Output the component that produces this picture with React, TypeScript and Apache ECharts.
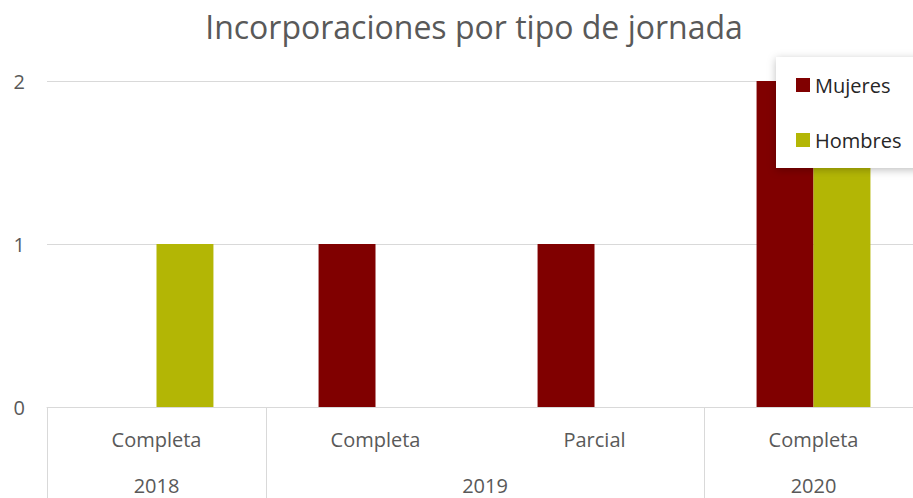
import React, { useEffect, useRef } from "react";
import * as echarts from "echarts";

const titleText = "Incorporaciones por tipo de jornada";
const tipos = ["Completa", "Completa", "Parcial", "Completa"];
const yearGroups = ["2018", "2019", "2020"];
const yearCounts = [1, 2, 1];
const mujeres = [0, 1, 1, 2];
const hombres = [1, 0, 0, 2];
const yTicks = [0, 1, 2];

const FONT = "'Open Sans', 'Noto Sans', sans-serif";
const GREY = "#595959";
const LINE = "#d9d9d9";

export default function App() {
  const ref = useRef<HTMLDivElement>(null);
  useEffect(() => {
    document.body.style.margin = "0";
    if (!ref.current) return;
    const chart = echarts.init(ref.current, null, { renderer: "svg" });

    // boundaries and centers of the year groups, in category units
    const bounds: number[] = [0];
    const centers: number[] = [];
    let acc = 0;
    yearCounts.forEach((c) => {
      centers.push(acc + c / 2);
      acc += c;
      bounds.push(acc);
    });
    const yearAt = (v: number) => {
      const i = centers.findIndex((c) => Math.abs(c - v) < 1e-6);
      return i >= 0 ? yearGroups[i] : "";
    };

    chart.setOption({
      animation: false,
      title: {
        text: titleText,
        left: "center",
        top: 5,
        textStyle: { fontFamily: FONT, fontSize: 32, fontWeight: "normal", color: GREY },
      },
      legend: {
        orient: "vertical",
        left: 776,
        top: 57,
        padding: [18, 30, 18, 20],
        itemWidth: 14,
        itemHeight: 14,
        itemGap: 35,
        backgroundColor: "#ffffff",
        shadowBlur: 8,
        shadowColor: "rgba(0,0,0,0.25)",
        shadowOffsetX: 0,
        shadowOffsetY: 2,
        icon: "rect",
        textStyle: { fontFamily: FONT, fontSize: 20, color: "#262626" },
        data: ["Mujeres", "Hombres"],
      },
      grid: { left: 47, top: 81, bottom: 91, right: 25, containLabel: false },
      xAxis: [
        {
          type: "category",
          data: tipos,
          axisLine: { show: true, lineStyle: { color: LINE, width: 1 } },
          axisTick: { show: false },
          axisLabel: { fontFamily: FONT, fontSize: 20, color: GREY, margin: 22 },
          splitLine: { show: false },
        },
        {
          type: "value",
          position: "bottom",
          min: 0,
          max: tipos.length,
          axisLine: { show: false },
          splitLine: { show: false },
          axisTick: {
            show: true,
            customValues: bounds,
            length: 91,
            lineStyle: { color: LINE, width: 1 },
          },
          axisLabel: {
            customValues: centers,
            formatter: (v: number) => yearAt(v),
            fontFamily: FONT,
            fontSize: 20,
            color: GREY,
            margin: 68,
          },
        },
      ],
      yAxis: {
        type: "value",
        min: yTicks[0],
        max: yTicks[yTicks.length - 1],
        interval: 1,
        axisLine: { show: false },
        axisTick: { show: false },
        splitLine: { show: true, lineStyle: { color: LINE, width: 1 } },
        axisLabel: { fontFamily: FONT, fontSize: 20, color: GREY, margin: 22 },
      },
      series: [
        {
          name: "Mujeres",
          type: "bar",
          data: mujeres,
          barGap: "0%",
          barCategoryGap: "48%",
          itemStyle: { color: "#800000" },
        },
        {
          name: "Hombres",
          type: "bar",
          data: hombres,
          barGap: "0%",
          barCategoryGap: "48%",
          itemStyle: { color: "#b3b605" },
        },
      ],
    });
    return () => chart.dispose();
  }, []);
  return (
    <div style={{ width: 913, height: 498, overflow: "hidden", position: "relative" }}>
      <div ref={ref} style={{ width: 948, height: 498 }} />
    </div>
  );
}
